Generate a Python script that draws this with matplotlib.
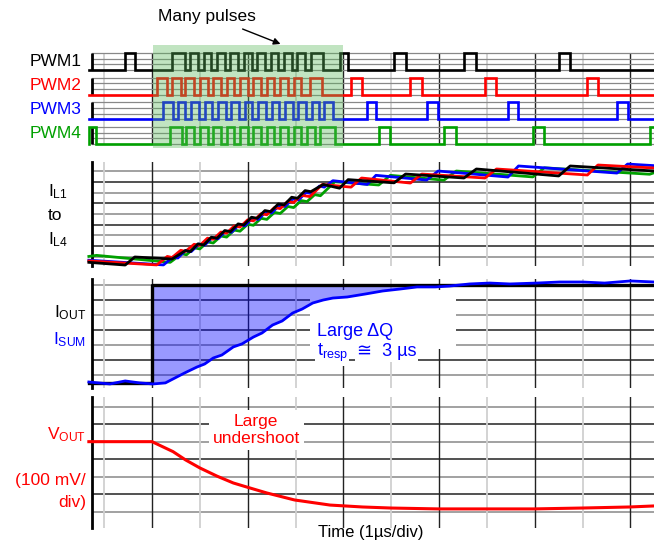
import numpy as np
import matplotlib
matplotlib.use("Agg")
import matplotlib.pyplot as plt
from matplotlib.patches import Rectangle

plt.rcParams['font.family'] = ['Liberation Sans', 'DejaVu Sans']
plt.rcParams['mathtext.fontset'] = 'custom'
plt.rcParams['mathtext.rm'] = 'Liberation Sans'
plt.rcParams['mathtext.it'] = 'Liberation Sans:italic'
plt.rcParams['mathtext.bf'] = 'Liberation Sans:bold'

# time in µs, 0 = load step
# PWM pulses (switch on / switch off)
pwm1_on = [-0.28, 0.21, 0.40, 0.54, 0.68, 0.82, 0.96, 1.10, 1.24, 1.38, 1.52, 1.66, 1.96, 2.53, 3.26, 4.25]
pwm1_off = [-0.18, 0.35, 0.48, 0.62, 0.76, 0.90, 1.04, 1.18, 1.32, 1.46, 1.60, 1.79, 2.05, 2.65, 3.39, 4.37]
pwm2_on = [0.05, 0.21, 0.35, 0.50, 0.64, 0.78, 0.92, 1.06, 1.20, 1.34, 1.48, 1.65, 2.08, 2.70, 3.48, 4.55]
pwm2_off = [0.16, 0.30, 0.44, 0.58, 0.72, 0.86, 1.00, 1.14, 1.28, 1.42, 1.56, 1.78, 2.19, 2.82, 3.60, 4.66]
pwm3_on = [0.12, 0.27, 0.41, 0.55, 0.69, 0.83, 0.97, 1.11, 1.25, 1.39, 1.53, 1.67, 1.80, 2.25, 2.87, 3.72, 4.86]
pwm3_off = [0.22, 0.35, 0.49, 0.63, 0.77, 0.91, 1.05, 1.19, 1.33, 1.47, 1.61, 1.75, 1.89, 2.34, 2.99, 3.83, 4.97]
pwm4_on = [-0.66, 0.19, 0.36, 0.50, 0.64, 0.78, 0.92, 1.06, 1.20, 1.34, 1.48, 1.62, 1.76, 2.37, 3.05, 3.98, 5.20]
pwm4_off = [-0.58, 0.31, 0.44, 0.58, 0.72, 0.86, 1.00, 1.14, 1.28, 1.42, 1.56, 1.70, 1.91, 2.49, 3.18, 4.10, 5.30]

# phase currents (div)
il1_t = [-0.66, -0.28, -0.18, 0.21, 0.35, 0.40, 0.48, 0.54, 0.62, 0.68, 0.76, 0.82, 0.90, 0.96, 1.04, 1.10, 1.18,
         1.24, 1.32, 1.38, 1.46, 1.52, 1.60, 1.66, 1.79, 1.96, 2.05, 2.53, 2.65, 3.26, 3.39, 4.25, 4.37, 5.25]
il1_v = [-0.5, -0.75, 0.0, -0.19, 0.60, 0.50, 1.22, 1.12, 1.84, 1.74, 2.46, 2.36, 3.08, 2.98, 3.70, 3.60, 4.32,
         4.22, 4.94, 4.84, 5.56, 5.46, 6.18, 6.08, 6.75, 6.40, 7.20, 6.90, 7.72, 7.35, 8.19, 7.54, 8.47, 8.0]
il2_t = [-0.66, 0.05, 0.16, 0.21, 0.30, 0.35, 0.44, 0.50, 0.58, 0.64, 0.72, 0.78, 0.86, 0.92, 1.00, 1.06, 1.14,
         1.20, 1.28, 1.34, 1.42, 1.48, 1.56, 1.65, 1.78, 2.08, 2.19, 2.70, 2.82, 3.48, 3.60, 4.55, 4.66, 5.25]
il2_v = [-0.37, -0.74, 0.05, -0.05, 0.62, 0.52, 1.18, 1.08, 1.75, 1.65, 2.32, 2.22, 2.89, 2.79, 3.46, 3.36, 4.03,
         3.93, 4.60, 4.50, 5.17, 5.07, 5.74, 5.62, 6.75, 6.50, 7.35, 6.88, 7.72, 7.35, 8.19, 7.63, 8.56, 8.28]
il3_t = [-0.66, 0.12, 0.22, 0.27, 0.35, 0.41, 0.49, 0.55, 0.63, 0.69, 0.77, 0.83, 0.91, 0.97, 1.05, 1.11, 1.19,
         1.25, 1.33, 1.39, 1.47, 1.53, 1.61, 1.67, 1.75, 1.80, 1.89, 2.25, 2.34, 2.87, 2.99, 3.72, 3.83, 4.86, 4.97, 5.25]
il3_v = [-0.30, -0.74, 0.0, -0.1, 0.6, 0.5, 1.2, 1.1, 1.8, 1.7, 2.4, 2.3, 3.0, 2.9, 3.6, 3.5, 4.2,
         4.1, 4.8, 4.7, 5.4, 5.3, 6.0, 5.9, 6.6, 6.5, 7.1, 6.75, 7.6, 7.16, 8.0, 7.44, 8.47, 7.81, 8.65, 8.5]
il4_t = [-0.66, -0.58, 0.19, 0.31, 0.36, 0.44, 0.50, 0.58, 0.64, 0.72, 0.78, 0.86, 0.92, 1.00, 1.06, 1.14, 1.20,
         1.28, 1.34, 1.42, 1.48, 1.56, 1.62, 1.70, 1.76, 1.91, 2.37, 2.49, 3.05, 3.18, 3.98, 4.10, 5.20, 5.25]
il4_v = [0.05, 0.15, -0.5, 0.3, 0.2, 0.85, 0.75, 1.4, 1.3, 1.95, 1.85, 2.5, 2.4, 3.05, 2.95, 3.6, 3.5,
         4.15, 4.05, 4.7, 4.6, 5.25, 5.15, 5.8, 5.7, 7.0, 6.7, 7.6, 7.15, 8.0, 7.45, 8.3, 7.7, 7.85]

# load current and summed inductor current (div)
iout_t = [-0.66, 0.0, 0.0, 5.25]
iout_v = [-0.53, -0.53, 6.0, 6.0]
isum_t = [-0.66, -0.44, -0.28, -0.13, 0.01, 0.14, 0.24, 0.34, 0.47, 0.55, 0.64, 0.73, 0.85, 0.94, 1.06, 1.15,
          1.26, 1.36, 1.47, 1.57, 1.68, 1.79, 1.89, 2.04, 2.23, 2.41, 2.59, 2.77, 2.96, 3.11, 3.32, 3.53, 3.74,
          4.02, 4.26, 4.50, 4.73, 5.00, 5.25]
isum_v = [-0.47, -0.60, -0.40, -0.53, -0.60, -0.53, -0.20, 0.13, 0.53, 0.73, 1.13, 1.33, 1.87, 2.07, 2.53, 2.80,
          3.33, 3.60, 4.13, 4.40, 4.80, 5.00, 5.13, 5.20, 5.40, 5.60, 5.73, 5.87, 5.87, 5.93, 6.07, 6.13, 6.07,
          6.13, 6.20, 6.20, 6.13, 6.27, 6.20]

# output voltage deviation (mV)
vout_t = [-0.66, 0.0, 0.22, 0.35, 0.50, 0.68, 0.85, 0.99, 1.20, 1.49, 1.86, 2.20, 2.50, 2.99, 3.49, 3.99, 4.49, 4.99, 5.25]
vout_v = [0, 0, -57, -104, -150, -197, -236, -259, -293, -333, -362, -373, -379, -384, -384, -384, -379, -373, -367]

RED = '#ff0000'
BLUE = '#0000ff'
GREEN = '#00a000'
W, H = 654.0, 545.0
T_LEFT, T_RIGHT = -0.627, 5.246

fig = plt.figure(figsize=(6.54, 5.45), dpi=100)


def panel(top, bottom, ylim):
    ax = fig.add_axes([92 / W, 1 - bottom / H, (W - 92) / W, (bottom - top) / H])
    ax.set_xlim(T_LEFT, T_RIGHT)
    ax.set_ylim(*ylim)
    ax.axis('off')
    return ax


def vgrid(ax, y0=None, y1=None):
    for t in np.arange(-0.5, 5.01, 0.5):
        dark = abs(t - round(t)) < 1e-6
        col = '#222222' if dark else '#d0d0d0'
        lw = 1.0 if dark else 1.3
        if y0 is None:
            ax.axvline(t, color=col, lw=lw, zorder=1)
        else:
            ax.vlines(t, y0, y1, color=col, lw=lw, zorder=1)


def hgrid(ax, levels):
    for i, y in enumerate(levels):
        ax.axhline(y, color='#222222' if i % 2 else '#888888', lw=1.1, zorder=1)


def ftext(px, py, s, **kw):
    fig.text(px / W, 1 - py / H, s, **kw)


# ---- PWM panel ----
ROW = 1.45
ax1 = panel(45, 150, (-4.70, 1.47))
vgrid(ax1, -3 * ROW, 1.0)
pwms = [(pwm1_on, pwm1_off, 'black'), (pwm2_on, pwm2_off, RED),
        (pwm3_on, pwm3_off, BLUE), (pwm4_on, pwm4_off, GREEN)]
for k, (on, off, col) in enumerate(pwms):
    base = -k * ROW
    for y in np.linspace(base, base + 1, 4):
        ax1.axhline(y, color='#888888', lw=0.9, zorder=1)
    ax1.vlines(T_LEFT, base, base + 1, color='black', lw=2, zorder=2, clip_on=False)
    tt, yy = [-0.66], [base]
    for a, b in zip(on, off):
        tt += [a, a, b, b]
        yy += [base, base + 1, base + 1, base]
    tt.append(5.3)
    yy.append(base)
    ax1.plot(tt, yy, color=col, lw=1.9, zorder=3, clip_on=False, solid_joinstyle='miter')
ax1.axvspan(0.01, 2.0, ymin=0.02, ymax=1.0, color='#5cb85c', alpha=0.38, lw=0, zorder=5)

ftext(207, 17, 'Many pulses', ha='center', va='center', fontsize=12.5)
ax1.annotate('', xy=(1.37, 1.47), xycoords='data', xytext=(240, H - 28), textcoords='figure pixels',
             arrowprops=dict(arrowstyle='-|>', color='black', lw=1, mutation_scale=10), annotation_clip=False)
for name, py, col in [('PWM1', 61, 'black'), ('PWM2', 86, RED), ('PWM3', 109, BLUE), ('PWM4', 134, GREEN)]:
    ftext(82, py, name, ha='right', va='center', color=col, fontsize=12.5)

# ---- inductor currents ----
ax2 = panel(162, 266, (-0.84, 8.84))
hgrid(ax2, range(0, 9))
vgrid(ax2)
ax2.axvline(T_LEFT, color='black', lw=2, zorder=2, clip_on=False)
for t, v, col in [(il4_t, il4_v, GREEN), (il3_t, il3_v, BLUE), (il2_t, il2_v, RED), (il1_t, il1_v, 'black')]:
    ax2.plot(t, v, color=col, lw=2, zorder=3, clip_on=False)
ftext(48, 192, r'$\mathrm{I}_{\mathrm{L1}}$', ha='left', va='center', fontsize=12.5)
ftext(48, 215, 'to', ha='left', va='center', fontsize=12.5)
ftext(48, 240, r'$\mathrm{I}_{\mathrm{L4}}$', ha='left', va='center', fontsize=12.5)

# ---- IOUT / ISUM ----
ax3 = panel(279, 388, (-0.87, 6.4))
hgrid(ax3, range(0, 7))
vgrid(ax3)
ax3.axvline(T_LEFT, color='black', lw=2, zorder=2, clip_on=False)
ax3.add_patch(Rectangle((1.65, 1.7), 1.53, 3.97, facecolor='white', edgecolor='none', zorder=1.5))
t = np.array(isum_t)
v = np.array(isum_v)
hi = iout_v[-1]
ax3.fill_between(t, v, hi, where=(t >= 0) & (v <= hi), interpolate=False, color='blue', alpha=0.4, lw=0, zorder=2)
ax3.plot(iout_t, iout_v, color='black', lw=2.4, zorder=3, clip_on=False)
ax3.plot(isum_t, isum_v, color=BLUE, lw=2, zorder=4, clip_on=False)
ax3.text(1.72, 2.93, 'Large ΔQ', color=BLUE, fontsize=13, ha='left', va='center', zorder=5,
         bbox=dict(facecolor='white', edgecolor='none', pad=1))
ax3.text(1.72, 1.45, r'$\mathrm{t}_{\mathrm{resp}}$', color=BLUE, fontsize=13, ha='left', va='center', zorder=5,
         bbox=dict(facecolor='white', edgecolor='none', pad=1))
ax3.text(2.14, 1.55, '≅  3 µs', color=BLUE, fontsize=13, ha='left', va='center', zorder=5,
         bbox=dict(facecolor='white', edgecolor='none', pad=1))
ftext(86, 313, r'$\mathrm{I}_{\mathrm{OUT}}$', ha='right', va='center', fontsize=12.5)
ftext(86, 340, r'$\mathrm{I}_{\mathrm{SUM}}$', ha='right', va='center', fontsize=12.5, color=BLUE)

# ---- VOUT ----
ax4 = panel(397, 528, (-493, 255))
hgrid(ax4, [-400, -300, -200, -100, 0, 100, 200])
vgrid(ax4)
ax4.axvline(T_LEFT, color='black', lw=2, zorder=2, clip_on=False)
ax4.plot(vout_t, vout_v, color=RED, lw=2.2, zorder=3, clip_on=False)
ax4.text(1.09, 67, 'Large\nundershoot', color=RED, fontsize=12.5, ha='center', va='center', zorder=5,
         bbox=dict(facecolor='white', edgecolor='none', pad=3))
ftext(86, 435, r'$\mathrm{V}_{\mathrm{OUT}}$', ha='right', va='center', fontsize=12.5, color=RED)
ftext(86, 481, '(100 mV/', ha='right', va='center', fontsize=12.5, color=RED)
ftext(86, 503, 'div)', ha='right', va='center', fontsize=12.5, color=RED)

ftext(371, 533, 'Time (1µs/div)', ha='center', va='center', fontsize=12)

fig.savefig('out.png', dpi=100)
